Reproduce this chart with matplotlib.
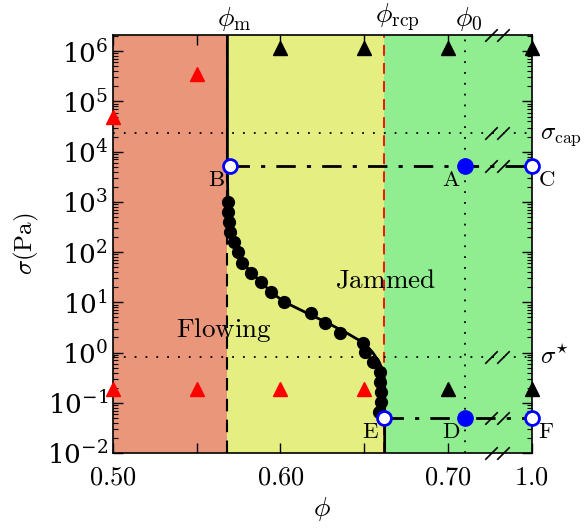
import matplotlib
matplotlib.use('Agg')
import matplotlib.pyplot as plt
import numpy as np
from matplotlib.transforms import blended_transform_factory
from matplotlib.ticker import LogLocator, NullFormatter, FixedLocator, FixedFormatter

plt.rcParams['mathtext.fontset'] = 'cm'
plt.rcParams['font.family'] = 'serif'
plt.rcParams['font.serif'] = ['DejaVu Serif']

# ---- data ----
phi_m = 0.568
phi_rcp = 0.662
phi_0 = 0.71
sigma_cap = 2.3e4
sigma_star = 0.80

dots_phi = [0.5684, 0.5684, 0.5693, 0.5701, 0.5720, 0.5744, 0.5772, 0.5825, 0.5884,
            0.5944, 0.6024, 0.6184, 0.6263, 0.6355, 0.6495, 0.6507, 0.6555, 0.6595,
            0.6595, 0.6601, 0.6601, 0.6591]
dots_sigma = [1000, 630, 400, 251, 160, 101, 62, 39, 25, 15.8, 10.0, 6.2, 3.9, 2.5,
              1.57, 1.02, 0.65, 0.41, 0.26, 0.166, 0.105, 0.066]

fit_phi = [0.5683, 0.5683, 0.5685, 0.5690, 0.5700, 0.5715, 0.5740, 0.5775, 0.5830,
           0.5890, 0.5950, 0.6020, 0.6150, 0.6280, 0.6400, 0.6495, 0.6549, 0.6589,
           0.6615, 0.6622, 0.6622]
fit_sigma = [3e6, 5e3, 1.5e3, 700, 350, 200, 110, 62, 38, 24, 15.5, 10.3, 6.3, 3.9,
             2.4, 1.57, 1.02, 0.65, 0.41, 0.26, 0.005]

pts_phi = {'A': 0.71, 'B': 0.570, 'C': 1.0, 'D': 0.71, 'E': 0.662, 'F': 1.0}
pts_sigma = {'A': 5.2e3, 'B': 5.2e3, 'C': 5.2e3, 'D': 0.049, 'E': 0.049, 'F': 0.049}

red_tri_phi = [0.50, 0.55, 0.50, 0.55, 0.60, 0.65]
red_tri_sigma = [4.9e4, 3.5e5, 0.185, 0.185, 0.185, 0.185]
black_tri_phi = [0.60, 0.65, 0.70, 1.0, 0.70, 1.0]
black_tri_sigma = [1.15e6, 1.15e6, 1.15e6, 1.15e6, 0.185, 0.185]

x_tick_vals = [0.50, 0.60, 0.70, 1.0]
x_tick_labels = ['0.50', '0.60', '0.70', '1.0']
x_minor_vals = [0.55, 0.65]

BREAK_END = 0.75   # phi = 1.0 drawn here
BREAK_X = 0.7292

def xm(p):
    p = np.asarray(p, dtype=float)
    return np.where(p > 0.9, BREAK_END + (p - 1.0), p)

# ---- figure ----
fig = plt.figure(figsize=(5.85, 5.28), dpi=100)
ax = fig.add_axes([113/585, 1 - 453/528, (531.7-113)/585, (453-35)/528])
ax.set_xlim(0.5, BREAK_END)
ax.set_ylim(1e-2, 2.1e6)
ax.set_yscale('log')

ax.axvspan(0.5, phi_m, color='#E9967A', lw=0, zorder=0)
ax.axvspan(phi_m, phi_rcp, color='#E5EE80', lw=0, zorder=0)
ax.axvspan(phi_rcp, BREAK_END, color='#90EE90', lw=0, zorder=0)

# reference lines
ax.axvline(phi_m, color='black', ls=(0, (6, 4)), lw=1.5, zorder=1)
ax.axvline(phi_rcp, color='red', ls=(0, (6, 4)), lw=1.3, zorder=1)
ax.axvline(phi_0, color='black', ls=(0, (1, 5)), lw=1.3, zorder=1)
ax.axhline(sigma_cap, color='black', ls=(0, (1, 5)), lw=1.3, zorder=1)
ax.axhline(sigma_star, color='black', ls=(0, (1, 5)), lw=1.3, zorder=1)

# dash-dot lines B-C, E-F
ax.plot(xm([pts_phi['B'], pts_phi['C']]), [pts_sigma['B'], pts_sigma['C']],
        color='black', lw=2, ls=(0, (7, 4, 1.5, 4)), zorder=2)
ax.plot(xm([pts_phi['E'], pts_phi['F']]), [pts_sigma['E'], pts_sigma['F']],
        color='black', lw=2, ls=(0, (7, 4, 1.5, 4)), zorder=2)

# fit curve
ax.plot(fit_phi, fit_sigma, color='black', lw=2, zorder=3)
# data dots
ax.plot(dots_phi, dots_sigma, 'o', color='black', ms=8.5, zorder=4)

# triangles
ax.plot(xm(red_tri_phi), red_tri_sigma, '^', color='red', ms=10, lw=0, clip_on=False, zorder=5)
ax.plot(xm(black_tri_phi), black_tri_sigma, '^', color='black', ms=10, lw=0, clip_on=False, zorder=5)

# A, D filled
for k in ['A', 'D']:
    ax.plot(xm(pts_phi[k]), pts_sigma[k], 'o', color='blue', ms=11, zorder=6, clip_on=False)
for k in ['B', 'C', 'E', 'F']:
    ax.plot(xm(pts_phi[k]), pts_sigma[k], 'o', mfc='white', mec='blue', mew=2, ms=10,
            zorder=6, clip_on=False)

offs = {'A': (-10, -10), 'B': (-10, -10), 'C': (11, -10), 'D': (-10, -10),
        'E': (-10, -10), 'F': (10, -10)}
for k, (dx, dy) in offs.items():
    ax.annotate(r'$\mathrm{%s}$' % k, (float(xm(pts_phi[k])), pts_sigma[k]),
                xytext=(dx, dy), textcoords='offset points', ha='center', va='center',
                fontsize=16.5, zorder=7, annotation_clip=False)

ax.text(0.5665, 2.03, r'$\mathrm{Flowing}$', ha='center', va='baseline', fontsize=19.5, zorder=7)
ax.text(0.6629, 20.1, r'$\mathrm{Jammed}$', ha='center', va='baseline', fontsize=19.5, zorder=7)

# right-side sigma labels
ax.annotate(r'$\sigma_{\rm cap}$', (1.0, sigma_cap), xycoords=('axes fraction', 'data'),
            xytext=(6, -2), textcoords='offset points', ha='left', va='center', fontsize=18,
            annotation_clip=False)
ax.annotate(r'$\sigma^{\star}$', (1.0, sigma_star), xycoords=('axes fraction', 'data'),
            xytext=(6, 1), textcoords='offset points', ha='left', va='center', fontsize=18,
            annotation_clip=False)

# top phi labels
trans_top = blended_transform_factory(ax.transData, ax.transAxes)
for val, lab in [(phi_m, r'$\phi_{\rm m}$'), (phi_rcp, r'$\phi_{\rm rcp}$'), (phi_0, r'$\phi_0$')]:
    ax.annotate(lab, (val, 1.0), xycoords=trans_top, xytext=(-7, 1.5), textcoords='offset points',
                ha='left', va='bottom', fontsize=20, annotation_clip=False)

# axis ticks
ax.xaxis.set_major_locator(FixedLocator(list(xm(x_tick_vals))))
ax.xaxis.set_major_formatter(FixedFormatter([r'$%s$' % s for s in x_tick_labels]))
ax.xaxis.set_minor_locator(FixedLocator(x_minor_vals))
ax.yaxis.set_major_locator(LogLocator(base=10, numticks=20))
ax.yaxis.set_minor_locator(LogLocator(base=10, subs=np.arange(2, 10), numticks=20))
ax.yaxis.set_minor_formatter(NullFormatter())
ax.tick_params(which='both', direction='in', top=True, right=True, labelsize=19)
ax.tick_params(axis='x', which='both', length=7, width=1, pad=8)
ax.tick_params(axis='y', which='major', length=7, width=1)
ax.tick_params(axis='y', which='minor', length=3.5, width=0.8)
for s in ax.spines.values():
    s.set_linewidth(1.2)

ax.set_xlabel(r'$\phi$', fontsize=20, labelpad=4)
ax.set_ylabel(r'$\sigma(\mathrm{Pa})$', fontsize=18, labelpad=4)

# axis break marks
slash = [(-1, -1), (1, 1)]
for yv in [sigma_cap, pts_sigma['A'], sigma_star, pts_sigma['D']]:
    ax.plot([BREAK_X - 0.0037, BREAK_X + 0.0037], [yv, yv], ls='none', marker=slash,
            ms=9, mew=1.2, color='black', zorder=8, clip_on=False)
for yf in [0.0, 1.0]:
    ax.plot([BREAK_X - 0.0037, BREAK_X + 0.0037], [yf, yf], ls='none', marker=slash,
            ms=9, mew=1.2, color='black', transform=trans_top, zorder=8, clip_on=False)

fig.savefig('out.png', dpi=100)
